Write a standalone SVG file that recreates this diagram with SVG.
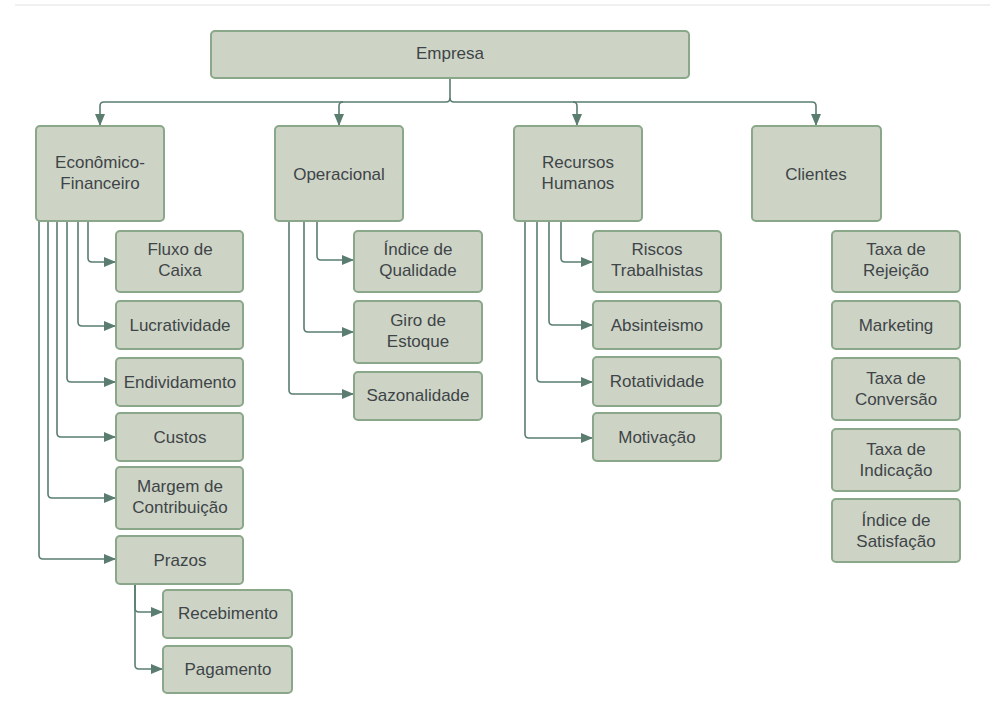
<svg xmlns="http://www.w3.org/2000/svg" width="990" height="711" viewBox="0 0 990 711">
<defs>
<style>
.n rect{fill:#cdd4c6;stroke:#8aa78a;stroke-width:2}
.n text{font-family:"Liberation Sans",Arial,sans-serif;font-size:17px;fill:#3f4448;text-anchor:middle}
.c path{fill:none;stroke:#5a7d70;stroke-width:1.6}
</style>
<marker id="ar" markerUnits="userSpaceOnUse" markerWidth="12" markerHeight="10" viewBox="0 0 12 10" refX="12" refY="5" orient="auto">
<path d="M0,0 L12,5 L0,10 z" fill="#5a7d70"/>
</marker>
</defs>
<rect width="990" height="711" fill="#ffffff"/>
<line x1="15" y1="5" x2="990" y2="5" stroke="#f0f0f0" stroke-width="2"/>
<g class="c">
<path d="M450,79 V98 Q450,102 446,102 H104 Q100,102 100,106 V126" marker-end="url(#ar)"/>
<path d="M450,98 Q450,102 454,102 H812 Q816,102 816,106 V126" marker-end="url(#ar)"/>
<path d="M343,102 Q339,102 339,106 V126" marker-end="url(#ar)"/>
<path d="M573,102 Q577,102 577,106 V126" marker-end="url(#ar)"/>
<path d="M88,221 V258 Q88,262 92,262 H116" marker-end="url(#ar)"/>
<path d="M78,221 V322 Q78,326 82,326 H116" marker-end="url(#ar)"/>
<path d="M67,221 V378 Q67,382 71,382 H116" marker-end="url(#ar)"/>
<path d="M57,221 V433 Q57,437 61,437 H116" marker-end="url(#ar)"/>
<path d="M48,221 V494 Q48,498 52,498 H116" marker-end="url(#ar)"/>
<path d="M39,221 V555 Q39,559 43,559 H116" marker-end="url(#ar)"/>
<path d="M135,584 V608 Q135,612 139,612 H163" marker-end="url(#ar)"/>
<path d="M135,584 V665 Q135,669 139,669 H163" marker-end="url(#ar)"/>
<path d="M317,221 V256 Q317,260 321,260 H354" marker-end="url(#ar)"/>
<path d="M304,221 V328 Q304,332 308,332 H354" marker-end="url(#ar)"/>
<path d="M289,221 V390 Q289,394 293,394 H354" marker-end="url(#ar)"/>
<path d="M561,221 V258 Q561,262 565,262 H593" marker-end="url(#ar)"/>
<path d="M549,221 V321 Q549,325 553,325 H593" marker-end="url(#ar)"/>
<path d="M537,221 V378 Q537,382 541,382 H593" marker-end="url(#ar)"/>
<path d="M525,221 V434 Q525,438 529,438 H593" marker-end="url(#ar)"/>
</g>
<g id="empresa" class="n"><rect x="211" y="31" width="478" height="47" rx="4"/><text x="450" y="59">Empresa</text></g>
<g id="economico" class="n"><rect x="36" y="126" width="128" height="95" rx="4"/><text x="100" y="168">Econômico-</text><text x="100" y="189">Financeiro</text></g>
<g id="operacional" class="n"><rect x="275" y="126" width="128" height="95" rx="4"/><text x="339" y="180">Operacional</text></g>
<g id="rh" class="n"><rect x="514" y="126" width="128" height="95" rx="4"/><text x="578" y="168">Recursos</text><text x="578" y="189">Humanos</text></g>
<g id="clientes" class="n"><rect x="752" y="126" width="129" height="95" rx="4"/><text x="816" y="180">Clientes</text></g>

<g id="fluxo" class="n"><rect x="116" y="231" width="127" height="61" rx="4"/><text x="180" y="255">Fluxo de</text><text x="180" y="276">Caixa</text></g>
<g id="lucratividade" class="n"><rect x="116" y="301" width="127" height="48" rx="4"/><text x="180" y="331">Lucratividade</text></g>
<g id="endividamento" class="n"><rect x="116" y="358" width="127" height="48" rx="4"/><text x="180" y="388">Endividamento</text></g>
<g id="custos" class="n"><rect x="116" y="413" width="127" height="48" rx="4"/><text x="180" y="443">Custos</text></g>
<g id="margem" class="n"><rect x="116" y="467" width="127" height="62" rx="4"/><text x="180" y="492">Margem de</text><text x="180" y="513">Contribuição</text></g>
<g id="prazos" class="n"><rect x="116" y="536" width="127" height="48" rx="4"/><text x="180" y="566">Prazos</text></g>
<g id="recebimento" class="n"><rect x="163" y="590" width="129" height="48" rx="4"/><text x="228" y="619">Recebimento</text></g>
<g id="pagamento" class="n"><rect x="163" y="646" width="129" height="47" rx="4"/><text x="228" y="675">Pagamento</text></g>

<g id="qualidade" class="n"><rect x="354" y="231" width="128" height="61" rx="4"/><text x="418" y="255">Índice de</text><text x="418" y="276">Qualidade</text></g>
<g id="giro" class="n"><rect x="354" y="301" width="128" height="62" rx="4"/><text x="418" y="326">Giro de</text><text x="418" y="347">Estoque</text></g>
<g id="sazonalidade" class="n"><rect x="354" y="372" width="128" height="48" rx="4"/><text x="418" y="401">Sazonalidade</text></g>

<g id="riscos" class="n"><rect x="593" y="231" width="128" height="61" rx="4"/><text x="657" y="255">Riscos</text><text x="657" y="276">Trabalhistas</text></g>
<g id="absinteismo" class="n"><rect x="593" y="301" width="128" height="48" rx="4"/><text x="657" y="331">Absinteismo</text></g>
<g id="rotatividade" class="n"><rect x="593" y="357" width="128" height="49" rx="4"/><text x="657" y="387">Rotatividade</text></g>
<g id="motivacao" class="n"><rect x="593" y="413" width="128" height="48" rx="4"/><text x="657" y="443">Motivação</text></g>

<g id="rejeicao" class="n"><rect x="832" y="231" width="128" height="61" rx="4"/><text x="896" y="255">Taxa de</text><text x="896" y="276">Rejeição</text></g>
<g id="marketing" class="n"><rect x="832" y="301" width="128" height="48" rx="4"/><text x="896" y="331">Marketing</text></g>
<g id="conversao" class="n"><rect x="832" y="358" width="128" height="62" rx="4"/><text x="896" y="384">Taxa de</text><text x="896" y="405">Conversão</text></g>
<g id="indicacao" class="n"><rect x="832" y="429" width="128" height="62" rx="4"/><text x="896" y="455">Taxa de</text><text x="896" y="476">Indicação</text></g>
<g id="satisfacao" class="n"><rect x="832" y="499" width="128" height="63" rx="4"/><text x="896" y="526">Índice de</text><text x="896" y="547">Satisfação</text></g>
</svg>
